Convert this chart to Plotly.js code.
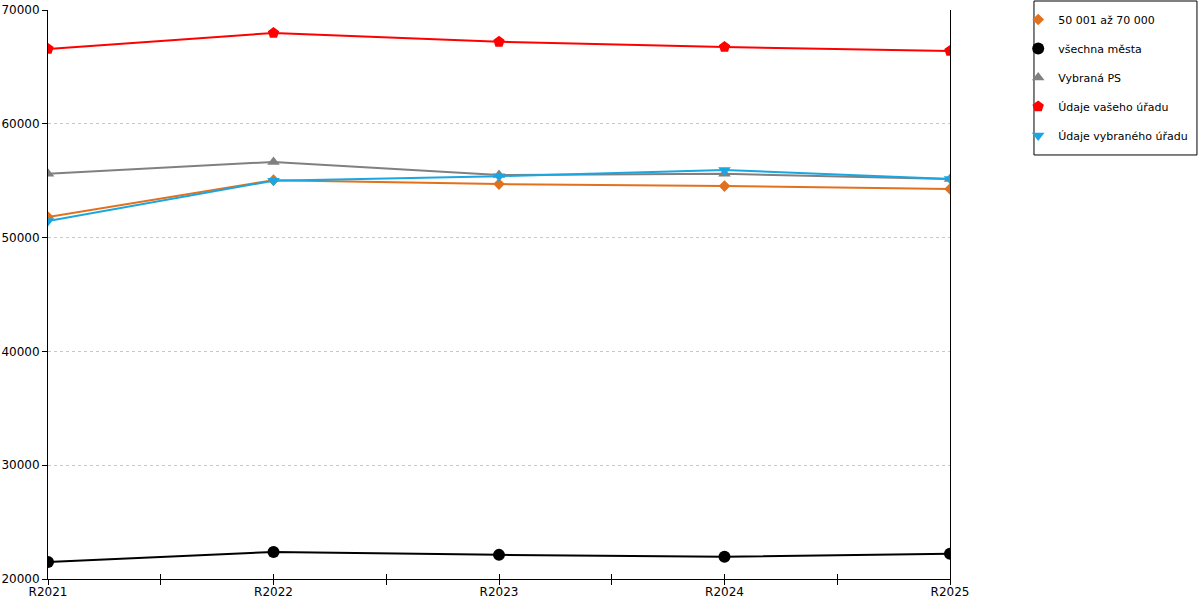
<!DOCTYPE html>
<html>
<head>
<meta charset="utf-8">
<script src="https://cdn.plot.ly/plotly-3.0.1.min.js"></script>
<style>
  html, body { margin: 0; padding: 0; background: #fff; }
  #chart { width: 1200px; height: 600px; }
</style>
</head>
<body>
<div id="chart"></div>
<script>
// years on the x axis
var years = ['R2021', 'R2022', 'R2023', 'R2024', 'R2025'];

// series values
var size50to70 = [51800, 55050, 54700, 54530, 54270];
var allCities = [21500, 22380, 22120, 21950, 22220];
var selectedPS = [55600, 56650, 55500, 55600, 55150];
var yourOffice = [66580, 67980, 67200, 66750, 66400];
var selectedOffice = [51450, 55000, 55400, 55950, 55150];

var names = ['50 001 až 70 000', 'všechna města', 'Vybraná PS', 'Údaje vašeho úřadu', 'Údaje vybraného úřadu'];

var idx = years.map(function (y, i) { return i; });

function series(vals, name, color, symbol, size) {
  return {
    x: idx,
    y: vals,
    name: name,
    legendgroup: name,
    type: 'scatter',
    mode: 'lines+markers',
    line: { color: color, width: 2 },
    marker: { color: color, symbol: symbol, size: size },
    showlegend: false
  };
}

// marker-only copies, just for the legend
function legendItem(name, color, symbol, size) {
  return {
    x: [null],
    y: [null],
    name: name,
    legendgroup: name,
    type: 'scatter',
    mode: 'markers',
    marker: { color: color, symbol: symbol, size: size }
  };
}

var colors = ['#e2711d', '#000000', '#808080', '#ff0000', '#1aa7e1'];
var symbols = ['diamond', 'circle', 'triangle-up', 'pentagon', 'triangle-down'];
var sizes = [9, 12, 11, 12, 11];
var values = [size50to70, allCities, selectedPS, yourOffice, selectedOffice];

var data = [];
values.forEach(function (v, i) { data.push(series(v, names[i], colors[i], symbols[i], sizes[i])); });
names.forEach(function (n, i) { data.push(legendItem(n, colors[i], symbols[i], sizes[i])); });

// second x axis over the first one, only for ticks that reach into the plot
data.push({ x: [null], y: [null], xaxis: 'x2', showlegend: false, hoverinfo: 'skip' });

var xTicks = {
  type: 'linear',
  range: [0, 4],
  tickvals: idx,
  ticktext: years,
  showgrid: false,
  zeroline: false,
  ticklen: 5,
  tickcolor: '#000',
  tickfont: { size: 12 }
};

var layout = {
  width: 1200,
  height: 600,
  margin: { l: 48, r: 250, t: 10, b: 21 },
  paper_bgcolor: '#fff',
  plot_bgcolor: '#fff',
  font: { family: 'DejaVu Sans', size: 12, color: '#000' },
  showlegend: true,
  legend: {
    xref: 'container', yref: 'container',
    x: 0.8485, y: 0.9917, xanchor: 'left', yanchor: 'top',
    borderwidth: 0, bgcolor: 'rgba(0,0,0,0)',
    tracegroupgap: 10,
    font: { family: 'DejaVu Sans', size: 11, color: '#000' }
  },
  shapes: [{
    type: 'rect', xref: 'paper', yref: 'paper',
    x0: 1.0931, x1: 1.2738, y0: 0.7452, y1: 1.0158,
    line: { color: '#000', width: 1 }, fillcolor: '#fff', layer: 'below'
  }],
  xaxis: Object.assign({}, xTicks, {
    showline: true,
    linecolor: '#000',
    linewidth: 1,
    ticks: 'outside',
    ticklabelstandoff: -3,
    minor: { dtick: 0.5, tick0: 0, ticks: 'outside', ticklen: 5, tickcolor: '#000', showgrid: false }
  }),
  xaxis2: Object.assign({}, xTicks, {
    overlaying: 'x',
    anchor: 'y',
    side: 'bottom',
    showline: false,
    ticks: 'inside',
    showticklabels: false,
    minor: { dtick: 0.5, tick0: 0, ticks: 'inside', ticklen: 5, tickcolor: '#000', showgrid: false }
  }),
  yaxis: {
    range: [20000, 70000],
    dtick: 10000,
    tickformat: 'd',
    showgrid: true,
    gridcolor: '#c8c8c8',
    griddash: 'dot',
    gridwidth: 1,
    zeroline: false,
    showline: true,
    mirror: true,
    linecolor: '#000',
    linewidth: 1,
    ticks: 'outside',
    ticklen: 5,
    tickcolor: '#000',
    tickfont: { size: 12 }
  }
};

Plotly.newPlot('chart', data, layout, { displayModeBar: false, staticPlot: true });
</script>
</body>
</html>
